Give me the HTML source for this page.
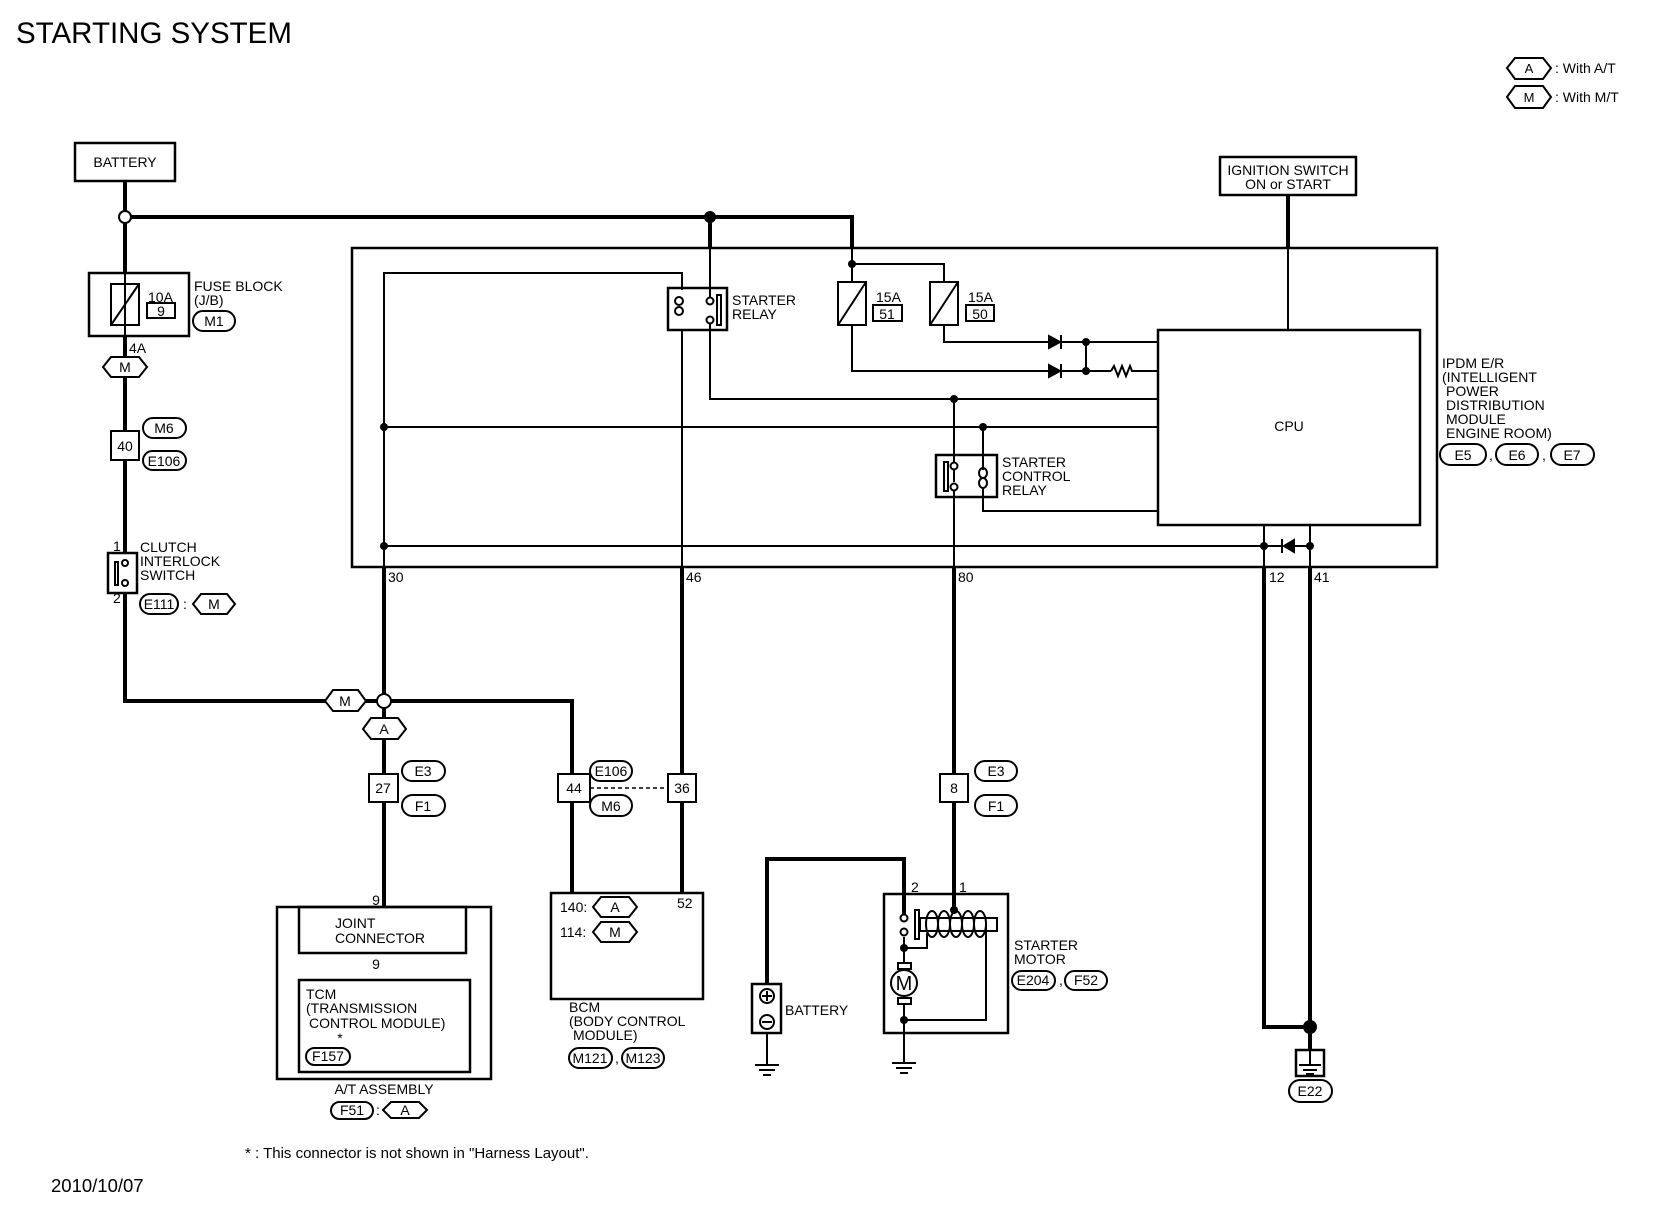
<!DOCTYPE html>
<html><head><meta charset="utf-8"><style>
html,body{margin:0;padding:0;background:#fff;}
svg{display:block;}
text{font-family:"Liberation Sans",Arial,sans-serif;fill:#000;}
</style></head><body>
<svg width="1660" height="1216" viewBox="0 0 1660 1216" xmlns="http://www.w3.org/2000/svg">
<g fill="none" stroke="#000" stroke-linecap="butt">
<g stroke-width="4">
<polyline points="125,181 125,211"/>
<polyline points="131,217 710,217"/>
<polyline points="710,217 852,217 852,248"/>
<polyline points="710,217 710,248"/>
<polyline points="125,223 125,273"/>
<polyline points="125,336 125,553"/>
<polyline points="125,593 125,701 377,701"/>
<polyline points="391,701 572,701 572,893"/>
<polyline points="384,567 384,694"/>
<polyline points="384,708 384,907"/>
<polyline points="682,567 682,893"/>
<polyline points="954,567 954,910"/>
<polyline points="1288,195 1288,248"/>
<polyline points="1264,567 1264,1027 1310,1027"/>
<polyline points="1310,567 1310,1050"/>
<polyline points="767,984 767,859 904,859 904,914"/>
</g>
<g stroke-width="2">
<polyline points="125,273 125,336"/>
<polyline points="384,546 384,273 682,273 682,290"/>
<polyline points="682,329 682,567"/>
<polyline points="710,248 710,297"/>
<polyline points="710,322 710,399 1157,399"/>
<polyline points="852,248 852,282"/>
<polyline points="852,264 944,264 944,282"/>
<polyline points="852,325 852,371 1049,371"/>
<polyline points="944,325 944,342 1049,342"/>
<polyline points="1061,342 1157,342"/>
<polyline points="1061,371 1111,371"/>
<polyline points="1111,371 1114,366 1118,376 1122,366 1126,376 1130,366 1132,371 1157,371"/>
<polyline points="1086,342 1086,371"/>
<polyline points="384,427 1157,427"/>
<polyline points="983,427 983,470"/>
<polyline points="983,497 983,511 1157,511"/>
<polyline points="954,399 954,482"/>
<polyline points="954,487 954,567"/>
<polyline points="384,546 1282,546"/>
<polyline points="1294,546 1310,546"/>
<polyline points="1264,525 1264,567"/>
<polyline points="1310,525 1310,567"/>
<polyline points="1288,248 1288,330"/>
<polyline points="384,546 384,567"/>
<polyline points="904,937 904,1062"/>
<polyline points="904,948 927,948 927,933"/>
<polyline points="904,1020 986,1020 986,924"/>
<polyline points="767,1033 767,1064"/>
<polyline points="590,788 668,788" stroke-dasharray="4,3" stroke-width="1.5"/>
</g>
<g stroke-width="2.5">
<rect x="75" y="143" width="100" height="38"/>
<rect x="89" y="273" width="100" height="63"/>
<rect x="352" y="248" width="1085" height="319"/>
<rect x="1158" y="330" width="262" height="195"/>
<rect x="1220" y="157" width="136" height="38"/>
<rect x="668" y="288" width="59" height="42"/>
<rect x="936" y="455" width="61" height="42"/>
<rect x="108" y="553" width="29" height="40"/>
<rect x="277" y="907" width="214" height="172"/>
<rect x="299" y="907" width="167" height="46"/>
<rect x="299" y="980" width="171" height="92"/>
<rect x="551" y="893" width="152" height="106"/>
<rect x="884" y="894" width="124" height="139"/>
<rect x="752" y="984" width="29" height="49"/>
<rect x="1296" y="1050" width="28" height="26"/>
</g>
<g stroke-width="2">
<rect x="111" y="284" width="28" height="41"/><line x1="111" y1="325" x2="139" y2="284"/>
<rect x="838" y="282" width="28" height="43"/><line x1="838" y1="325" x2="866" y2="282"/>
<rect x="930" y="282" width="28" height="43"/><line x1="930" y1="325" x2="958" y2="282"/>
<rect x="147" y="303" width="28" height="15"/>
<rect x="873" y="305" width="29" height="16"/>
<rect x="966" y="305" width="28" height="16"/>
<rect x="111" y="431" width="28" height="29" fill="#fff"/>
<rect x="369" y="774" width="29" height="28" fill="#fff"/>
<rect x="558" y="774" width="32" height="28" fill="#fff"/>
<rect x="668" y="774" width="28" height="28" fill="#fff"/>
<rect x="940" y="774" width="28" height="28" fill="#fff"/>
<rect x="193" y="311" width="42" height="20" rx="10"/>
<rect x="143" y="418" width="43" height="20" rx="10"/>
<rect x="143" y="451" width="43" height="19" rx="9.5"/>
<rect x="140" y="594" width="38" height="20" rx="10"/>
<rect x="402" y="761" width="43" height="20" rx="10"/>
<rect x="402" y="795" width="43" height="21" rx="10.5"/>
<rect x="590" y="761" width="42" height="20" rx="10"/>
<rect x="590" y="795" width="42" height="21" rx="10.5"/>
<rect x="975" y="761" width="42" height="20" rx="10"/>
<rect x="975" y="795" width="42" height="21" rx="10.5"/>
<rect x="1440" y="444" width="46" height="21" rx="10.5"/>
<rect x="1496" y="444" width="42" height="21" rx="10.5"/>
<rect x="1551" y="444" width="43" height="21" rx="10.5"/>
<rect x="306" y="1048" width="44" height="17" rx="8.5"/>
<rect x="331" y="1102" width="42" height="17" rx="8.5"/>
<rect x="569" y="1048" width="43" height="20" rx="10"/>
<rect x="622" y="1048" width="42" height="20" rx="10"/>
<rect x="1012" y="971" width="43" height="19" rx="9.5"/>
<rect x="1065" y="971" width="42" height="19" rx="9.5"/>
<rect x="1289" y="1080" width="43" height="22" rx="11"/>
<polygon points="1507,68 1515,58 1543,58 1551,68 1543,79 1515,79"/>
<polygon points="1507,97 1515,86 1543,86 1551,97 1543,108 1515,108"/>
<polygon points="103,367 111,357 139,357 147,367 139,377 111,377" fill="#fff"/>
<polygon points="193,604 201,594 227,594 235,604 227,614 201,614"/>
<polygon points="325,701 333,690 358,690 366,701 358,711 333,711" fill="#fff"/>
<polygon points="363,729 371,718 398,718 406,729 398,739 371,739" fill="#fff"/>
<polygon points="383,1110 391,1102 419,1102 427,1110 419,1118 391,1118"/>
<polygon points="593,907 601,897 629,897 637,907 629,917 601,917"/>
<polygon points="593,932 601,922 629,922 637,932 629,942 601,942"/>
<circle cx="710" cy="301" r="3.5" fill="#fff"/><circle cx="710" cy="320" r="3.5" fill="#fff"/>
<rect x="717" y="295" width="4" height="30"/>
<ellipse cx="679" cy="301" rx="4" ry="4"/><ellipse cx="679" cy="311" rx="4" ry="4"/>
<circle cx="954" cy="466" r="3.5" fill="#fff"/><circle cx="954" cy="487" r="3.5" fill="#fff"/>
<rect x="944" y="462" width="4" height="29"/>
<ellipse cx="983" cy="473" rx="4" ry="5"/><ellipse cx="983" cy="483" rx="4" ry="5"/>
<line x1="983" y1="470" x2="983" y2="466"/><line x1="983" y1="488" x2="983" y2="497"/>
<circle cx="125" cy="563" r="3" fill="#fff"/><circle cx="125" cy="583" r="3" fill="#fff"/>
<rect x="115" y="562" width="3" height="23"/>
<circle cx="904" cy="918" r="3.5" fill="#fff"/><circle cx="904" cy="932" r="3.5" fill="#fff"/>
<rect x="915" y="910" width="4" height="29"/>
<rect x="920" y="918" width="77" height="13"/>
<ellipse cx="932" cy="924" rx="6" ry="13"/><ellipse cx="944" cy="924" rx="6" ry="13"/>
<ellipse cx="956" cy="924" rx="6" ry="13"/><ellipse cx="968" cy="924" rx="6" ry="13"/>
<ellipse cx="980" cy="924" rx="6" ry="13"/>
<rect x="898" y="963" width="13" height="6" fill="#fff"/>
<rect x="898" y="998" width="13" height="6" fill="#fff"/>
<circle cx="904" cy="983" r="13" fill="#fff"/>
<circle cx="767" cy="996" r="7"/><line x1="762" y1="996" x2="772" y2="996"/><line x1="767" y1="991" x2="767" y2="1001"/>
<circle cx="767" cy="1022" r="7"/><line x1="762" y1="1022" x2="772" y2="1022"/>
<line x1="755" y1="1065" x2="779" y2="1065"/><line x1="759" y1="1070" x2="775" y2="1070"/><line x1="763" y1="1075" x2="771" y2="1075"/>
<line x1="892" y1="1063" x2="916" y2="1063"/><line x1="896" y1="1068" x2="912" y2="1068"/><line x1="900" y1="1073" x2="908" y2="1073"/>
<line x1="1310" y1="1050" x2="1310" y2="1064"/>
<line x1="1299" y1="1065" x2="1321" y2="1065"/><line x1="1303" y1="1070" x2="1317" y2="1070"/><line x1="1306" y1="1074" x2="1314" y2="1074"/>
</g>
<g fill="#000" stroke="#000" stroke-width="2">
<polygon points="1049,336 1049,348 1060,342"/><line x1="1061" y1="335" x2="1061" y2="349"/>
<polygon points="1049,365 1049,377 1060,371"/><line x1="1061" y1="364" x2="1061" y2="378"/>
<polygon points="1294,540 1294,552 1284,546"/><line x1="1282" y1="539" x2="1282" y2="553"/>
</g>
<g fill="#000" stroke="none">
<circle cx="710" cy="217" r="6"/>
<circle cx="852" cy="264" r="4"/>
<circle cx="1086" cy="342" r="4"/><circle cx="1086" cy="371" r="4"/>
<circle cx="954" cy="399" r="4"/><circle cx="983" cy="427" r="4"/>
<circle cx="384" cy="427" r="4"/><circle cx="384" cy="546" r="4"/>
<circle cx="1264" cy="546" r="4"/><circle cx="1310" cy="546" r="4"/>
<circle cx="1310" cy="1027" r="7"/>
<circle cx="954" cy="910" r="4"/><circle cx="904" cy="948" r="4"/><circle cx="904" cy="1020" r="4"/>
</g>
<g fill="#fff" stroke="#000" stroke-width="2">
<circle cx="125" cy="217" r="6"/>
<circle cx="384" cy="701" r="7"/>
</g>
</g>
<text x="16" y="43" font-size="29.5">STARTING SYSTEM</text>
<g font-size="14">
<text x="1555" y="73">: With A/T</text>
<text x="1555" y="102">: With M/T</text>
<text x="1529" y="73" text-anchor="middle" font-size="13">A</text>
<text x="1529" y="102" text-anchor="middle" font-size="13">M</text>
<text x="125" y="167" text-anchor="middle">BATTERY</text>
<text x="1288" y="175" text-anchor="middle">IGNITION SWITCH</text>
<text x="1288" y="189" text-anchor="middle">ON or START</text>
<text x="148" y="302">10A</text>
<text x="161" y="316" text-anchor="middle">9</text>
<text x="194" y="291">FUSE BLOCK</text>
<text x="194" y="305">(J/B)</text>
<text x="214" y="326" text-anchor="middle">M1</text>
<text x="129" y="353">4A</text>
<text x="125" y="372" text-anchor="middle">M</text>
<text x="164" y="433" text-anchor="middle">M6</text>
<text x="125" y="451" text-anchor="middle">40</text>
<text x="164" y="466" text-anchor="middle">E106</text>
<text x="113" y="551">1</text>
<text x="113" y="603">2</text>
<text x="140" y="552">CLUTCH</text>
<text x="140" y="566">INTERLOCK</text>
<text x="140" y="580">SWITCH</text>
<text x="159" y="609" text-anchor="middle">E111</text>
<text x="183" y="609">:</text>
<text x="214" y="609" text-anchor="middle">M</text>
<text x="732" y="305">STARTER</text>
<text x="732" y="319">RELAY</text>
<text x="876" y="302">15A</text>
<text x="887" y="319" text-anchor="middle">51</text>
<text x="968" y="302">15A</text>
<text x="980" y="319" text-anchor="middle">50</text>
<text x="1002" y="467">STARTER</text>
<text x="1002" y="481">CONTROL</text>
<text x="1002" y="495">RELAY</text>
<text x="1289" y="431" text-anchor="middle">CPU</text>
<text x="1442" y="368">IPDM E/R</text>
<text x="1442" y="382">(INTELLIGENT</text>
<text x="1446" y="396">POWER</text>
<text x="1446" y="410">DISTRIBUTION</text>
<text x="1446" y="424">MODULE</text>
<text x="1446" y="438">ENGINE ROOM)</text>
<text x="1463" y="460" text-anchor="middle">E5</text>
<text x="1489" y="460">,</text>
<text x="1517" y="460" text-anchor="middle">E6</text>
<text x="1542" y="460">,</text>
<text x="1572" y="460" text-anchor="middle">E7</text>
<text x="388" y="582">30</text>
<text x="686" y="582">46</text>
<text x="958" y="582">80</text>
<text x="1269" y="582">12</text>
<text x="1314" y="582">41</text>
<text x="345" y="706" text-anchor="middle">M</text>
<text x="384" y="734" text-anchor="middle">A</text>
<text x="423" y="776" text-anchor="middle">E3</text>
<text x="383" y="793" text-anchor="middle">27</text>
<text x="423" y="811" text-anchor="middle">F1</text>
<text x="611" y="776" text-anchor="middle">E106</text>
<text x="574" y="793" text-anchor="middle">44</text>
<text x="682" y="793" text-anchor="middle">36</text>
<text x="611" y="811" text-anchor="middle">M6</text>
<text x="996" y="776" text-anchor="middle">E3</text>
<text x="954" y="793" text-anchor="middle">8</text>
<text x="996" y="811" text-anchor="middle">F1</text>
<text x="376" y="905" text-anchor="middle">9</text>
<text x="335" y="928">JOINT</text>
<text x="335" y="943">CONNECTOR</text>
<text x="376" y="969" text-anchor="middle">9</text>
<text x="306" y="999">TCM</text>
<text x="306" y="1013">(TRANSMISSION</text>
<text x="309" y="1028">CONTROL MODULE)</text>
<text x="340" y="1043" text-anchor="middle">*</text>
<text x="328" y="1061" text-anchor="middle">F157</text>
<text x="384" y="1094" text-anchor="middle">A/T ASSEMBLY</text>
<text x="352" y="1115" text-anchor="middle">F51</text>
<text x="376" y="1115">:</text>
<text x="405" y="1115" text-anchor="middle">A</text>
<text x="560" y="912">140:</text>
<text x="615" y="912" text-anchor="middle">A</text>
<text x="560" y="937">114:</text>
<text x="615" y="937" text-anchor="middle">M</text>
<text x="677" y="908">52</text>
<text x="569" y="1012">BCM</text>
<text x="569" y="1026">(BODY CONTROL</text>
<text x="573" y="1040">MODULE)</text>
<text x="590" y="1063" text-anchor="middle">M121</text>
<text x="615" y="1063">,</text>
<text x="643" y="1063" text-anchor="middle">M123</text>
<text x="911" y="892">2</text>
<text x="959" y="892">1</text>
<text x="904" y="990" text-anchor="middle" font-size="20">M</text>
<text x="785" y="1015">BATTERY</text>
<text x="1014" y="950">STARTER</text>
<text x="1014" y="964">MOTOR</text>
<text x="1033" y="985" text-anchor="middle">E204</text>
<text x="1059" y="985">,</text>
<text x="1086" y="985" text-anchor="middle">F52</text>
<text x="1310" y="1096" text-anchor="middle">E22</text>
</g>
<text x="245" y="1158" font-size="15">* : This connector is not shown in "Harness Layout".</text>
<text x="51" y="1192" font-size="18.5">2010/10/07</text>
</svg>
</body></html>
